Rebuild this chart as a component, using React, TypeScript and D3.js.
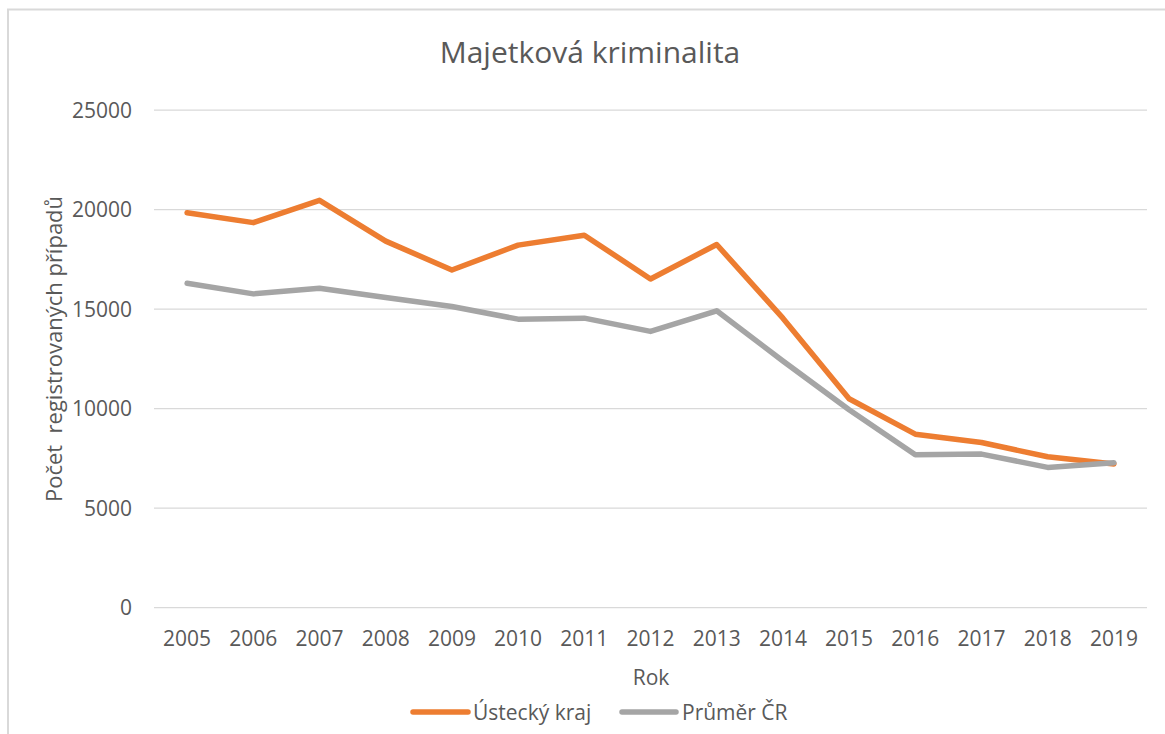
import * as d3 from 'd3'

const years = ['2005', '2006', '2007', '2008', '2009', '2010', '2011', '2012', '2013', '2014', '2015', '2016', '2017', '2018', '2019']
const ustecky = [19850, 19350, 20470, 18420, 16970, 18220, 18720, 16520, 18250, 14550, 10500, 8720, 8300, 7585, 7220]
const prumer = [16300, 15770, 16050, 15585, 15135, 14500, 14550, 13885, 14920, 12400, 9950, 7685, 7720, 7050, 7285]
const yTicks = [0, 5000, 10000, 15000, 20000, 25000]

const series = [
  { name: 'Ústecký kraj', values: ustecky, color: '#ED7D31' },
  { name: 'Průměr ČR', values: prumer, color: '#A5A5A5' },
]

const W = 1165
const H = 734
const FONT = '"Open Sans", sans-serif'
const TEXT = '#595959'

export default function App() {
  const x = d3.scalePoint<string>().domain(years).range([154, 1147]).padding(0.5)
  const y = d3.scaleLinear().domain([0, 25000]).range([607.7, 110.2])
  const line = d3.line<number>()
    .x((_, i) => x(years[i])!)
    .y(d => y(d))

  // legend placement
  const legend = [
    { ...series[0], x0: 413, x1: 468, tx: 473 },
    { ...series[1], x0: 622, x1: 676, tx: 682 },
  ]

  return (
    <div style={{ position: 'absolute', left: 0, top: 0 }}>
      <svg width={W} height={H} style={{ display: 'block' }} fontFamily={FONT}>
        <rect width={W} height={H} fill="#fff" />
        {/* chart frame */}
        <path d={`M8,${H} V9.5 H${W}`} fill="none" stroke="#d9d9d9" strokeWidth={2} />

        <text x={590} y={63} textAnchor="middle" fontSize={30} fill={TEXT}>Majetková kriminalita</text>

        {/* grid + y ticks */}
        {yTicks.map(t => (
          <g key={t}>
            <line x1={154} x2={1147} y1={y(t)} y2={y(t)} stroke="#d9d9d9" strokeWidth={1.3} />
            <text x={132} y={y(t)} dy="0.36em" textAnchor="end" fontSize={21} fill={TEXT}>{t}</text>
          </g>
        ))}

        {/* x ticks */}
        {years.map(yr => (
          <text key={yr} x={x(yr)} y={646} textAnchor="middle" fontSize={21} fill={TEXT}>{yr}</text>
        ))}

        <text x={651} y={685} textAnchor="middle" fontSize={21} fill={TEXT}>Rok</text>
        <text transform="translate(62,349) rotate(-90)" textAnchor="middle" fontSize={22} fill={TEXT} style={{ whiteSpace: 'pre' }}>
          {'Počet  registrovaných případů'}
        </text>

        {/* lines */}
        {series.map(s => (
          <path key={s.name} d={line(s.values)!} fill="none" stroke={s.color} strokeWidth={5.5} strokeLinejoin="round" strokeLinecap="round" />
        ))}

        {/* legend */}
        {legend.map(l => (
          <g key={l.name}>
            <line x1={l.x0} x2={l.x1} y1={712} y2={712} stroke={l.color} strokeWidth={5.5} strokeLinecap="round" />
            <text x={l.tx} y={720} fontSize={21} fill={TEXT}>{l.name}</text>
          </g>
        ))}
      </svg>
    </div>
  )
}
